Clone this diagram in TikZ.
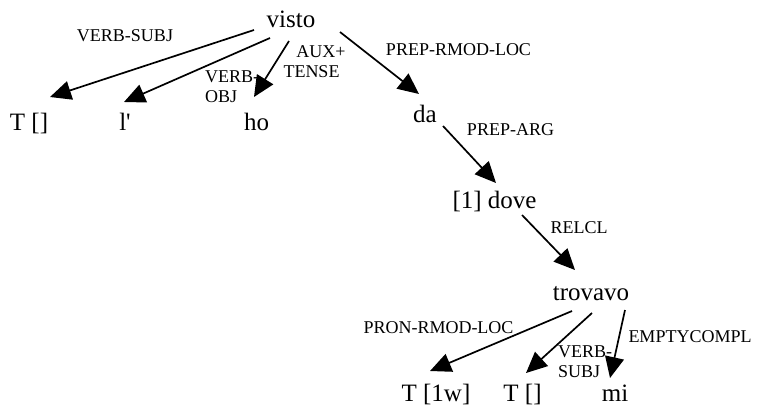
\documentclass[tikz,border=0pt]{standalone}
\usepackage{fontspec}
\setmainfont{Liberation Serif}
\usetikzlibrary{arrows.meta}
\begin{document}
\begin{tikzpicture}[x=1pt,y=-1pt,
  word/.style={inner sep=0pt,anchor=base,font=\fontsize{25}{30}\selectfont},
  lab/.style={inner sep=0pt,anchor=base,font=\fontsize{18}{20}\selectfont},
  labl/.style={inner sep=0pt,anchor=base west,font=\fontsize{18}{20}\selectfont},
  edge/.style={line width=1.7pt,-{Triangle[length=21pt,width=19pt]}}]
\useasboundingbox (0,0) rectangle (762,405);
% words
\node[word] (visto) at (291,27) {visto};
\node[word] (tA) at (29,130) {T []};
\node[word] (lap) at (125,130) {l\textquotesingle};
\node[word] (ho) at (256.5,130) {ho};
\node[word] (da) at (425,122) {da};
\node[word] (dove) at (494.5,208) {[1] dove};
\node[word] (trovavo) at (591,300) {trovavo};
\node[word] (tw) at (436,401) {T [1w]};
\node[word] (tB) at (522.5,401) {T []};
\node[word] (mi) at (615,401) {mi};
% labels
\node[lab] (l1) at (125,41) {VERB-SUBJ};
\node[labl] (l2a) at (205,82.5) {VERB-};
\node[labl] (l2b) at (205,102) {OBJ};
\node[lab] (l3a) at (321,57.5) {AUX+};
\node[lab] (l3b) at (311.5,77.5) {TENSE};
\node[lab] (l4) at (458.5,55) {PREP-RMOD-LOC};
\node[lab] (l5) at (510.5,135) {PREP-ARG};
\node[lab] (l6) at (579,233) {RELCL};
\node[lab] (l7) at (438.5,333) {PRON-RMOD-LOC};
\node[labl] (l8a) at (558,357) {VERB-};
\node[labl] (l8b) at (558,377) {SUBJ};
\node[lab] (l9) at (690,342) {EMPTYCOMPL};
% edges
\draw[edge] ([shift={(-37,3)}]visto.base) -- ([shift={(21,-33)}]tA.base);
\draw[edge] ([shift={(-21,11)}]visto.base) -- ([shift={(-1,-28)}]lap.base);
\draw[edge] ([shift={(-2,14)}]visto.base) -- ([shift={(-2.5,-33)}]ho.base);
\draw[edge] ([shift={(49,5)}]visto.base) -- ([shift={(-6,-28)}]da.base);
\draw[edge] ([shift={(18,4)}]da.base) -- ([shift={(1.5,-25)}]dove.base);
\draw[edge] ([shift={(27.5,7)}]dove.base) -- ([shift={(-16,-30)}]trovavo.base);
\draw[edge] ([shift={(-19,11)}]trovavo.base) -- ([shift={(-6,-30)}]tw.base);
\draw[edge] ([shift={(1,13)}]trovavo.base) -- ([shift={(3.5,-28)}]tB.base);
\draw[edge] ([shift={(34,10)}]trovavo.base) -- ([shift={(-5,-23)}]mi.base);
\end{tikzpicture}
\end{document}
